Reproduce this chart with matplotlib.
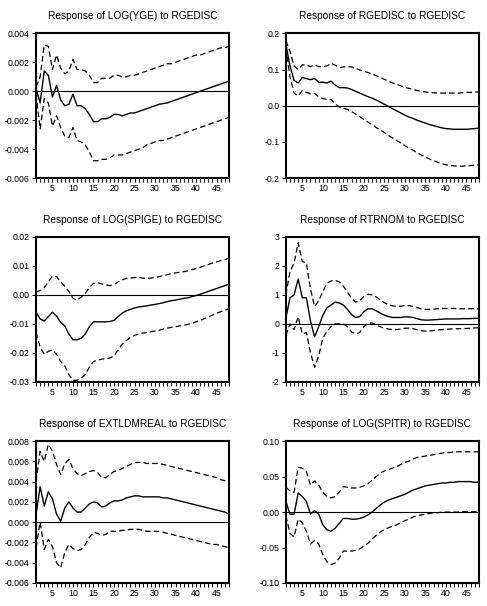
import numpy as np
import matplotlib.pyplot as plt
from matplotlib.ticker import FixedLocator, MultipleLocator

plt.rcParams['font.family'] = ['Liberation Sans', 'DejaVu Sans']

periods = np.arange(1, 49)

# Response of LOG(YGE) to RGEDISC
yge_mid = [0.0002, -0.0008, 0.0014, 0.0011, -0.0004, 0.0004, -0.0006, -0.0010, -0.0009, -0.0002,
           -0.0010, -0.0010, -0.0012, -0.0016, -0.0021, -0.0021, -0.0019, -0.0019, -0.0018, -0.0016,
           -0.0016, -0.0017, -0.0016, -0.0015, -0.0015, -0.0014, -0.0013, -0.0012, -0.0011, -0.0010,
           -0.0009, -0.00085, -0.0008, -0.0007, -0.0006, -0.0005, -0.0004, -0.0003, -0.0002, -0.0001,
           0.0000, 0.0001, 0.0002, 0.0003, 0.0004, 0.0005, 0.0006, 0.0007]
yge_hi = [0.0003, 0.0010, 0.0032, 0.0031, 0.0015, 0.0025, 0.0016, 0.0012, 0.0014, 0.0022,
          0.0015, 0.0015, 0.0014, 0.0011, 0.0006, 0.0006, 0.0009, 0.0009, 0.0009, 0.0011,
          0.0011, 0.0010, 0.0010, 0.0011, 0.0011, 0.0012, 0.0013, 0.0014, 0.0015, 0.0016,
          0.0017, 0.0018, 0.0019, 0.0019, 0.0020, 0.0021, 0.0022, 0.0023, 0.0024, 0.0025,
          0.0025, 0.0026, 0.0027, 0.0028, 0.0029, 0.0030, 0.0030, 0.0031]
yge_lo = [-0.0002, -0.0026, -0.0005, -0.0008, -0.0024, -0.0017, -0.0025, -0.0031, -0.0032, -0.0025,
          -0.0034, -0.0035, -0.0037, -0.0042, -0.0048, -0.0048, -0.0047, -0.0047, -0.0046, -0.0044,
          -0.0044, -0.0044, -0.0043, -0.0042, -0.0041, -0.0040, -0.0039, -0.0037, -0.0036, -0.0035,
          -0.0034, -0.0034, -0.0033, -0.0032, -0.0031, -0.0030, -0.0029, -0.0028, -0.0027, -0.0026,
          -0.0025, -0.0024, -0.0023, -0.0022, -0.0021, -0.0020, -0.0019, -0.0018]

# Response of RGEDISC to RGEDISC
rge_mid = [0.17, 0.11, 0.07, 0.063, 0.078, 0.075, 0.072, 0.075, 0.065, 0.065,
           0.063, 0.068, 0.057, 0.050, 0.050, 0.049, 0.045, 0.040, 0.035, 0.030,
           0.025, 0.021, 0.016, 0.010, 0.004, -0.002, -0.008, -0.014, -0.020, -0.026,
           -0.031, -0.035, -0.040, -0.044, -0.048, -0.052, -0.055, -0.058, -0.061, -0.063,
           -0.064, -0.065, -0.065, -0.065, -0.065, -0.064, -0.063, -0.062]
rge_hi = [0.18, 0.15, 0.11, 0.10, 0.113, 0.112, 0.108, 0.113, 0.108, 0.108,
          0.110, 0.117, 0.112, 0.105, 0.107, 0.108, 0.107, 0.103, 0.099, 0.095,
          0.092, 0.088, 0.083, 0.078, 0.073, 0.068, 0.063, 0.059, 0.055, 0.051,
          0.048, 0.045, 0.042, 0.040, 0.038, 0.037, 0.036, 0.035, 0.035, 0.035,
          0.035, 0.035, 0.035, 0.036, 0.037, 0.037, 0.038, 0.038]
rge_lo = [0.16, 0.08, 0.035, 0.027, 0.042, 0.037, 0.033, 0.034, 0.025, 0.020,
          0.017, 0.018, 0.005, -0.003, -0.007, -0.010, -0.016, -0.023, -0.030, -0.038,
          -0.045, -0.052, -0.060, -0.067, -0.074, -0.082, -0.089, -0.096, -0.103, -0.110,
          -0.117, -0.123, -0.130, -0.136, -0.142, -0.147, -0.152, -0.156, -0.160, -0.163,
          -0.165, -0.166, -0.167, -0.167, -0.166, -0.165, -0.164, -0.163]

# Response of LOG(SPIGE) to RGEDISC
spige_mid = [-0.0060, -0.0083, -0.0090, -0.0075, -0.0060, -0.0073, -0.0095, -0.0107, -0.0135, -0.0155,
             -0.0155, -0.0150, -0.0135, -0.0110, -0.0093, -0.0093, -0.0093, -0.0093, -0.0092, -0.0088,
             -0.0075, -0.0063, -0.0055, -0.0050, -0.0045, -0.0042, -0.0040, -0.0038, -0.0035, -0.0033,
             -0.0030, -0.0027, -0.0023, -0.0020, -0.0018, -0.0015, -0.0012, -0.0010, -0.0006, -0.0002,
             0.0002, 0.0007, 0.0012, 0.0017, 0.0022, 0.0027, 0.0032, 0.0037]
spige_hi = [0.0010, 0.0015, 0.0025, 0.0045, 0.0065, 0.0063, 0.0045, 0.0030, 0.0012, -0.0012,
            -0.0018, -0.0008, 0.0005, 0.0025, 0.0040, 0.0042, 0.0038, 0.0035, 0.0032, 0.0035,
            0.0045, 0.0052, 0.0057, 0.0058, 0.0060, 0.0060, 0.0058, 0.0057, 0.0058, 0.0060,
            0.0063, 0.0066, 0.0070, 0.0073, 0.0076, 0.0078, 0.0080, 0.0083, 0.0087, 0.0091,
            0.0095, 0.0100, 0.0105, 0.0110, 0.0114, 0.0118, 0.0122, 0.0126]
spige_lo = [-0.0130, -0.0180, -0.0205, -0.0195, -0.0190, -0.0205, -0.0230, -0.0245, -0.0275, -0.0295,
            -0.0295, -0.0288, -0.0275, -0.0250, -0.0230, -0.0225, -0.0222, -0.0220, -0.0218, -0.0210,
            -0.0190, -0.0170, -0.0158, -0.0147, -0.0140, -0.0135, -0.0132, -0.0130, -0.0127, -0.0125,
            -0.0122, -0.0118, -0.0115, -0.0112, -0.0110, -0.0107, -0.0105, -0.0102, -0.0098, -0.0093,
            -0.0088, -0.0082, -0.0076, -0.0070, -0.0064, -0.0058, -0.0053, -0.0048]

# Response of RTRNOM to RGEDISC
rtr_mid = [0.20, 0.90, 1.00, 1.55, 0.90, 0.90, 0.10, -0.45, -0.10, 0.30,
           0.55, 0.65, 0.75, 0.72, 0.65, 0.50, 0.32, 0.22, 0.25, 0.42,
           0.52, 0.52, 0.45, 0.37, 0.30, 0.25, 0.22, 0.22, 0.22, 0.24,
           0.24, 0.22, 0.18, 0.14, 0.13, 0.13, 0.14, 0.15, 0.16, 0.17,
           0.17, 0.17, 0.17, 0.18, 0.18, 0.18, 0.19, 0.19]
rtr_hi = [1.00, 1.80, 2.10, 2.80, 2.15, 2.10, 1.20, 0.60, 0.80, 1.10,
          1.40, 1.48, 1.50, 1.45, 1.30, 1.10, 0.88, 0.75, 0.80, 0.95,
          1.02, 1.00, 0.93, 0.83, 0.73, 0.66, 0.62, 0.60, 0.61, 0.63,
          0.63, 0.60, 0.56, 0.52, 0.50, 0.50, 0.51, 0.52, 0.53, 0.53,
          0.53, 0.53, 0.52, 0.52, 0.52, 0.52, 0.52, 0.52]
rtr_lo = [-0.40, 0.00, -0.20, 0.25, -0.35, -0.30, -1.00, -1.50, -1.10, -0.50,
          -0.25, -0.10, 0.00, 0.00, 0.00, -0.10, -0.28, -0.35, -0.30, -0.10,
          0.02, 0.03, -0.03, -0.10, -0.15, -0.18, -0.20, -0.20, -0.18, -0.15,
          -0.15, -0.17, -0.20, -0.24, -0.25, -0.25, -0.23, -0.21, -0.20, -0.19,
          -0.18, -0.17, -0.17, -0.16, -0.16, -0.15, -0.14, -0.13]

# Response of EXTLDMREAL to RGEDISC
ext_mid = [0.0008, 0.0035, 0.0016, 0.0030, 0.0023, 0.0008, 0.0001, 0.0014, 0.0020, 0.0014,
           0.0010, 0.0010, 0.0014, 0.0018, 0.0020, 0.0019, 0.0015, 0.0016, 0.0019, 0.0021,
           0.0021, 0.0022, 0.0024, 0.0025, 0.0026, 0.0026, 0.0025, 0.0025, 0.0025, 0.0025,
           0.0025, 0.0024, 0.0024, 0.0023, 0.0022, 0.0021, 0.0020, 0.0019, 0.0018, 0.0017,
           0.0016, 0.0015, 0.0014, 0.0013, 0.0012, 0.0011, 0.0010, 0.0008]
ext_hi = [0.0040, 0.0070, 0.0060, 0.0077, 0.0070, 0.0057, 0.0047, 0.0058, 0.0062, 0.0053,
          0.0048, 0.0046, 0.0048, 0.0050, 0.0051, 0.0049, 0.0044, 0.0044, 0.0047, 0.0050,
          0.0051, 0.0053, 0.0055, 0.0057, 0.0059, 0.0059, 0.0059, 0.0058, 0.0058, 0.0058,
          0.0058, 0.0057, 0.0056, 0.0055, 0.0054, 0.0053, 0.0052, 0.0051, 0.0050, 0.0049,
          0.0048, 0.0047, 0.0046, 0.0045, 0.0044, 0.0042, 0.0041, 0.0039]
ext_lo = [-0.0025, 0.0000, -0.0027, -0.0017, -0.0024, -0.0040, -0.0045, -0.0030, -0.0022, -0.0026,
          -0.0028, -0.0027, -0.0022, -0.0015, -0.0010, -0.0011, -0.0013, -0.0012, -0.0009, -0.0009,
          -0.0009, -0.0008, -0.0008, -0.0007, -0.0007, -0.0007, -0.0008, -0.0009, -0.0009, -0.0009,
          -0.0009, -0.0010, -0.0011, -0.0012, -0.0013, -0.0014, -0.0015, -0.0016, -0.0017, -0.0018,
          -0.0019, -0.0020, -0.0021, -0.0022, -0.0022, -0.0023, -0.0024, -0.0025]

# Response of LOG(SPITR) to RGEDISC
spitr_mid = [0.015, -0.003, -0.003, 0.027, 0.022, 0.015, -0.003, 0.002, -0.003, -0.018,
             -0.025, -0.027, -0.023, -0.016, -0.009, -0.009, -0.010, -0.010, -0.009, -0.007,
             -0.004, 0.000, 0.005, 0.010, 0.014, 0.017, 0.019, 0.021, 0.023, 0.025,
             0.028, 0.031, 0.033, 0.035, 0.037, 0.038, 0.039, 0.040, 0.041, 0.041,
             0.042, 0.042, 0.043, 0.043, 0.043, 0.043, 0.042, 0.042]
spitr_hi = [0.035, 0.030, 0.028, 0.063, 0.062, 0.057, 0.038, 0.044, 0.038, 0.028,
            0.022, 0.020, 0.022, 0.028, 0.036, 0.035, 0.034, 0.034, 0.035, 0.037,
            0.040, 0.045, 0.050, 0.055, 0.058, 0.060, 0.062, 0.064, 0.067, 0.070,
            0.072, 0.075, 0.077, 0.078, 0.079, 0.080, 0.081, 0.082, 0.083, 0.084,
            0.084, 0.085, 0.085, 0.085, 0.085, 0.085, 0.085, 0.085]
spitr_lo = [-0.005, -0.030, -0.035, -0.010, -0.015, -0.027, -0.045, -0.040, -0.045, -0.060,
            -0.070, -0.074, -0.072, -0.065, -0.055, -0.055, -0.055, -0.054, -0.052, -0.048,
            -0.044, -0.038, -0.033, -0.028, -0.025, -0.022, -0.020, -0.018, -0.015, -0.012,
            -0.010, -0.007, -0.005, -0.004, -0.003, -0.002, -0.001, -0.001, 0.000, 0.000,
            0.000, 0.000, 0.000, 0.0005, 0.0005, 0.0005, 0.0005, 0.0005]

titles = ["Response of LOG(YGE) to RGEDISC", "Response of RGEDISC to RGEDISC",
          "Response of LOG(SPIGE) to RGEDISC", "Response of RTRNOM to RGEDISC",
          "Response of EXTLDMREAL to RGEDISC", "Response of LOG(SPITR) to RGEDISC"]
series = [(yge_mid, yge_hi, yge_lo), (rge_mid, rge_hi, rge_lo),
          (spige_mid, spige_hi, spige_lo), (rtr_mid, rtr_hi, rtr_lo),
          (ext_mid, ext_hi, ext_lo), (spitr_mid, spitr_hi, spitr_lo)]
yticks = [[-0.006, -0.004, -0.002, 0.000, 0.002, 0.004],
          [-0.2, -0.1, 0.0, 0.1, 0.2],
          [-0.03, -0.02, -0.01, 0.00, 0.01, 0.02],
          [-2, -1, 0, 1, 2, 3],
          [-0.006, -0.004, -0.002, 0.000, 0.002, 0.004, 0.006, 0.008],
          [-0.10, -0.05, 0.00, 0.05, 0.10]]
yfmt = ["%.3f", "%.1f", "%.2f", "%d", "%.3f", "%.2f"]

fig = plt.figure(figsize=(4.87, 6.06), dpi=100)
lefts = [0.074, 0.587]
rows = [(0.706, 0.239), (0.370, 0.239), (0.038, 0.234)]

for i in range(6):
    r, c = divmod(i, 2)
    ax = fig.add_axes([lefts[c], rows[r][0], 0.396, rows[r][1]])
    mid, hi, lo = series[i]
    ax.axhline(0, color="black", lw=0.8)
    ax.plot(periods, mid, color="black", lw=1.0)
    ax.plot(periods, hi, color="black", lw=0.9, ls=(0, (4.5, 2.5)))
    ax.plot(periods, lo, color="black", lw=0.9, ls=(0, (4.5, 2.5)))
    ax.set_xlim(1, 48)
    ax.set_ylim(yticks[i][0], yticks[i][-1])
    ax.xaxis.set_major_locator(FixedLocator(range(5, 48, 5)))
    ax.xaxis.set_minor_locator(MultipleLocator(1))
    ax.set_yticks(yticks[i])
    ax.set_yticklabels([yfmt[i] % v for v in yticks[i]])
    ax.tick_params(axis="both", which="both", direction="out", length=3, width=0.7,
                   labelsize=6.3, colors="black", pad=1.5)
    for s in ax.spines.values():
        s.set_linewidth(1.5)
    ax.set_title(titles[i], fontsize=7.3, pad=10)

fig.savefig("out.png", dpi=100)
